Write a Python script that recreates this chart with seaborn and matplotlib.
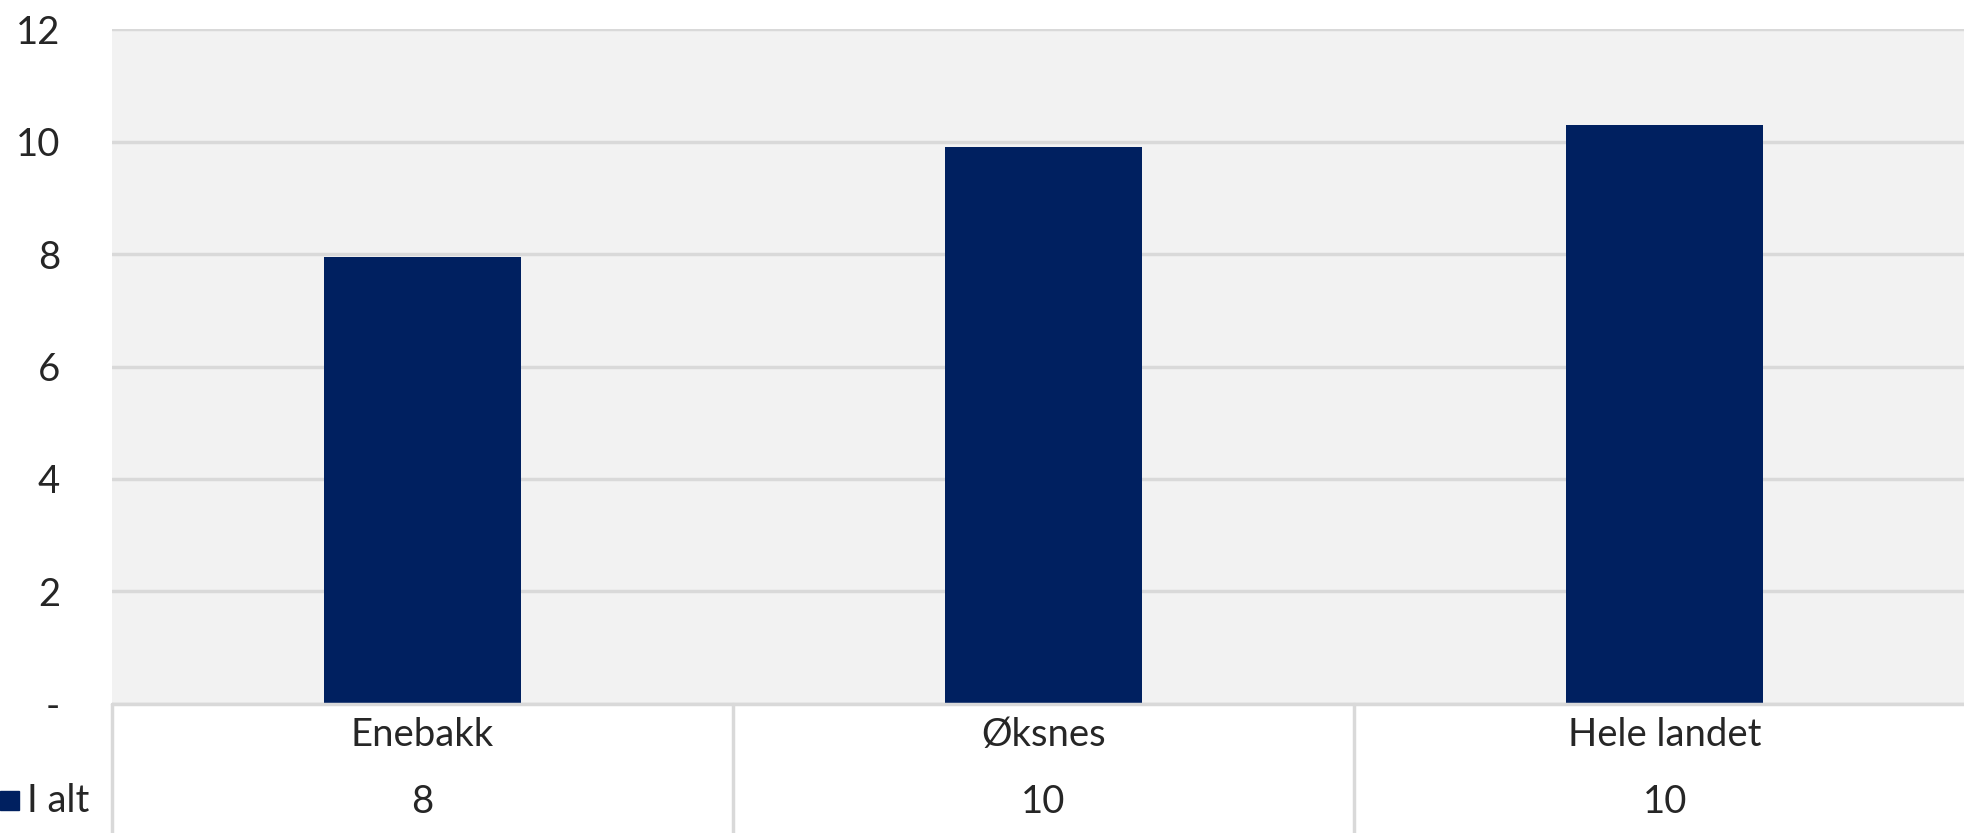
import matplotlib
matplotlib.use('Agg')
import matplotlib.pyplot as plt
import seaborn as sns
import pandas as pd

# data
categories = ['Enebakk', 'Øksnes', 'Hele landet']
values = [7.94, 9.90, 10.30]
series_name = 'I alt'
y_ticks = [0, 2, 4, 6, 8, 10, 12]

df = pd.DataFrame({'kommune': categories, 'verdi': values})

sns.set_style('white')
plt.rcParams['font.family'] = ['Lato', 'DejaVu Sans']

bar_color = '#002060'
grid_color = '#D9D9D9'
text_color = '#262626'

fig = plt.figure(figsize=(19.64, 8.33), dpi=100)
# plot area runs a little past the right edge, as in the original
ax = fig.add_axes([0.0568, 0.155, 0.949, 0.81])

sns.barplot(data=df, x='kommune', y='verdi', color=bar_color, width=0.317,
            saturation=1, linewidth=0, ax=ax, zorder=3)

ax.set_facecolor('#F2F2F2')
ax.set_xlim(-0.5, len(categories) - 0.5)
ax.set_ylim(0, 12)
ax.set_yticks(y_ticks)
ax.set_yticklabels(['-' if t == 0 else str(t) for t in y_ticks],
                   fontsize=27.5, color=text_color)
ax.tick_params(axis='y', length=0, pad=37)
ax.set_xticks([])
ax.set_xlabel('')
ax.set_ylabel('')
ax.yaxis.grid(True, color=grid_color, linewidth=2.5, zorder=0)
for s in ax.spines.values():
    s.set_visible(False)

# data table under the plot
trans = ax.get_xaxis_transform()
row_mid = -0.095
row_bot = -0.2
ax.axhline(0, color=grid_color, linewidth=2.5, zorder=4, clip_on=False)
for b in [-0.5 + i for i in range(len(categories))]:
    ax.plot([b, b], [0, row_bot], transform=trans, color=grid_color,
            linewidth=2.5, clip_on=False)
ax.plot([0, 1], [row_mid, row_mid], transform=fig.transFigure, color=grid_color,
        linewidth=2.5, clip_on=False)

for i, (c, v) in enumerate(zip(categories, values)):
    ax.text(i, -0.046, c, transform=trans, ha='center', va='center',
            fontsize=27.5, color=text_color)
    ax.text(i, -0.145, str(int(round(v))), transform=trans, ha='center',
            va='center', fontsize=27.5, color=text_color)

# legend key in the table
fig.patches.append(plt.Rectangle((0.0, 0.028), 0.0095, 0.022, transform=fig.transFigure,
                                 color=bar_color))
fig.text(0.0135, 0.038, series_name, ha='left', va='center', fontsize=27.5,
         color=text_color)

fig.savefig('out.png', dpi=100)
